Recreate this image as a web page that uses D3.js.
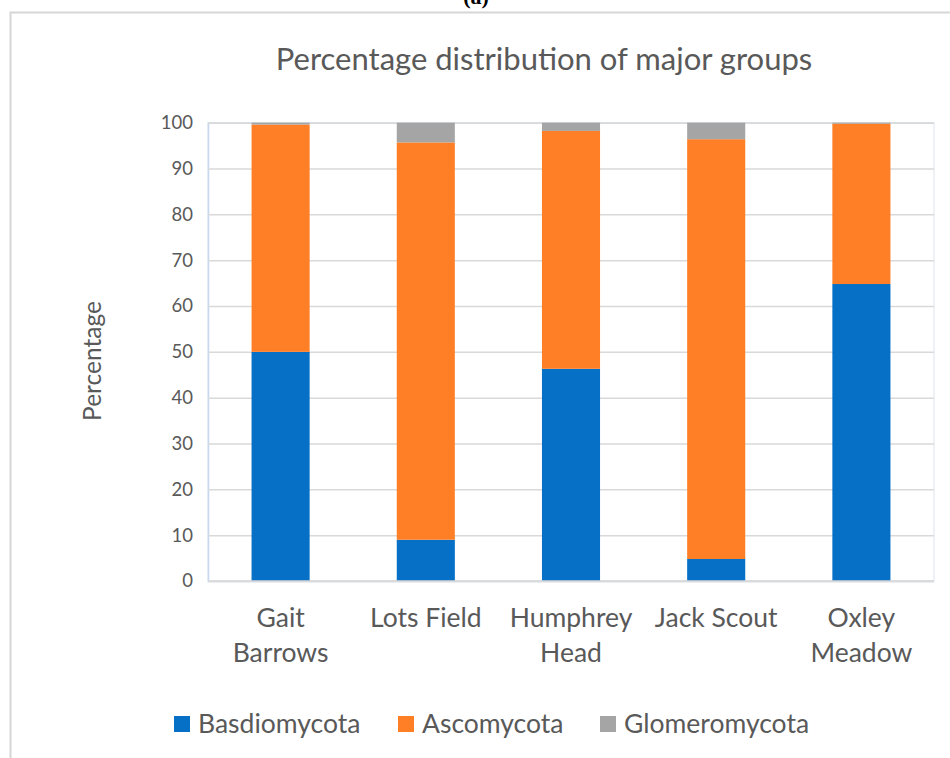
<!DOCTYPE html>
<html>
<head>
<meta charset="utf-8">
<script src="https://cdn.jsdelivr.net/npm/d3@7"></script>
<style>
  html, body { margin: 0; padding: 0; background: #fff; }
  svg { display: block; }
</style>
</head>
<body>
<svg id="chart" width="950" height="758"></svg>
<script>
const categories = [["Gait", "Barrows"], ["Lots Field"], ["Humphrey", "Head"], ["Jack Scout"], ["Oxley", "Meadow"]];
const seriesNames = ["Basdiomycota", "Ascomycota", "Glomeromycota"];
const basidiomycota = [50, 9, 46.3, 4.8, 64.8];
const ascomycota = [49.6, 86.7, 51.9, 91.6, 35];
const glomeromycota = [0.4, 4.3, 1.8, 3.6, 0.2];
const yTicks = [0, 10, 20, 30, 40, 50, 60, 70, 80, 90, 100];
const colors = ["#0570c6", "#ff7f27", "#a5a5a5"];

const svg = d3.select("#chart");
const W = 950, H = 758;
const plot = { left: 208, right: 934, top: 122.7, bottom: 581 };

const rows = categories.map((c, i) => ({
  key: i,
  Basdiomycota: basidiomycota[i],
  Ascomycota: ascomycota[i],
  Glomeromycota: glomeromycota[i]
}));

const x = d3.scaleBand().domain(d3.range(categories.length)).range([plot.left, plot.right]).paddingInner(0.6).paddingOuter(0.3);
const y = d3.scaleLinear().domain([0, 100]).range([plot.bottom, plot.top]);

// outer frame
svg.append("path")
  .attr("d", `M10.5,${H+5} V12.5 H${W+5}`)
  .attr("fill", "none").attr("stroke", "#d6d6d6").attr("stroke-width", 2);

// (a)
svg.append("text").attr("x", 476).attr("y", 4).attr("text-anchor", "middle")
  .attr("font-family", "Liberation Serif, serif").attr("font-weight", "bold")
  .attr("font-size", 22).attr("fill", "#000").text("(a)");

// title
svg.append("text").attr("x", 544).attr("y", 70).attr("text-anchor", "middle")
  .attr("font-family", "Lato, sans-serif").attr("font-size", 31).attr("fill", "#595959")
  .text("Percentage distribution of major groups");

// plot border
svg.append("rect").attr("x", plot.left).attr("y", plot.top)
  .attr("width", plot.right - plot.left).attr("height", plot.bottom - plot.top)
  .attr("fill", "none").attr("stroke", "#e3eaf4").attr("stroke-width", 1.2);

// gridlines
const yAxis = d3.axisLeft(y).tickValues(yTicks).tickSize(-(plot.right - plot.left)).tickPadding(15);
const gy = svg.append("g").attr("transform", `translate(${plot.left},0)`).call(yAxis);
gy.select(".domain").attr("stroke", "#c6d7ee").attr("stroke-width", 1.5);
gy.selectAll(".tick line").attr("stroke", "#d9d9d9").attr("stroke-width", 1.5);
gy.selectAll(".tick text").attr("font-family", "Lato, sans-serif").attr("font-size", 18.5).attr("fill", "#595959");

// bars
const stack = d3.stack().keys(seriesNames);
const layers = stack(rows);
svg.append("g").selectAll("g").data(layers).join("g")
  .attr("fill", (d, i) => colors[i])
  .selectAll("rect").data(d => d).join("rect")
  .attr("x", (d, i) => x(i))
  .attr("width", x.bandwidth())
  .attr("y", d => y(d[1]))
  .attr("height", d => y(d[0]) - y(d[1]));

// x axis line
svg.append("line").attr("x1", plot.left).attr("x2", plot.right)
  .attr("y1", plot.bottom).attr("y2", plot.bottom)
  .attr("stroke", "#d9d9d9").attr("stroke-width", 1.5);

// category labels
const xAxis = d3.axisBottom(x).tickSize(0).tickFormat(() => "");
const gx = svg.append("g").attr("transform", `translate(0,${plot.bottom})`).call(xAxis);
gx.select(".domain").remove();
gx.selectAll(".tick").each(function(d) {
  const t = d3.select(this).append("text")
    .attr("text-anchor", "middle").attr("font-family", "Lato, sans-serif")
    .attr("font-size", 26.5).attr("fill", "#595959");
  categories[d].forEach((line, j) => {
    t.append("tspan").attr("x", 0).attr("y", 46 + j * 35).text(line);
  });
});

// y label
svg.append("text").attr("transform", "translate(101,361) rotate(-90)")
  .attr("text-anchor", "middle").attr("font-family", "Lato, sans-serif")
  .attr("font-size", 24.5).attr("fill", "#595959").text("Percentage");

// legend
const legendX = [174, 398, 600];
const lg = svg.append("g");
seriesNames.forEach((n, i) => {
  lg.append("rect").attr("x", legendX[i]).attr("y", 716).attr("width", 16).attr("height", 16).attr("fill", colors[i]);
  lg.append("text").attr("x", legendX[i] + 24).attr("y", 733)
    .attr("font-family", "Lato, sans-serif").attr("font-size", 26.5).attr("fill", "#595959").text(n);
});
</script>
</body>
</html>
